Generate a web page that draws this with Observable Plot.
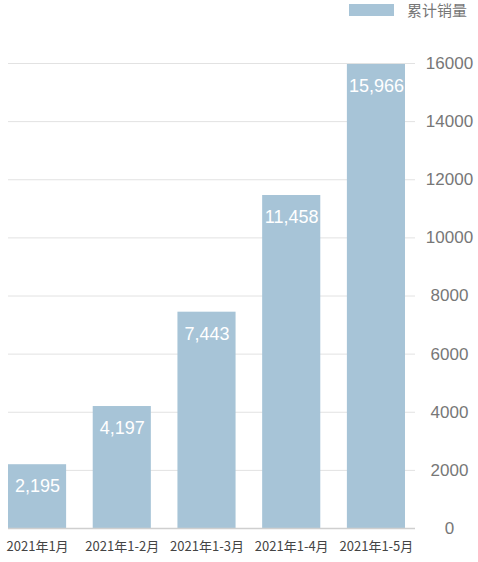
<!DOCTYPE html>
<html><head><meta charset="utf-8">
<script src="https://cdn.jsdelivr.net/npm/d3@7"></script>
<script src="https://cdn.jsdelivr.net/npm/@observablehq/plot@0.6"></script>
<style>
body{margin:0;background:#fff;font-family:"Liberation Sans","Noto Sans CJK SC",sans-serif;}
#legend{height:22px;position:relative;}
#legend .sw{position:absolute;left:349px;top:4px;width:45px;height:12px;background:#a7c4d7;}
#legend .lb{position:absolute;left:407px;top:0px;font-size:15px;color:#777;font-family:"Noto Sans CJK SC",sans-serif;line-height:20px;}
</style></head>
<body>
<div id="legend"><div class="sw"></div><div class="lb">累计销量</div></div>
<div id="chart"></div>
<script>
const periods = ["2021年1月","2021年1-2月","2021年1-3月","2021年1-4月","2021年1-5月"];
const sales = [2195, 4197, 7443, 11458, 15966];
const yTicks = [0,2000,4000,6000,8000,10000,12000,14000,16000];

const data = periods.map((p,i)=>({period:p, value:sales[i]}));
const fmt = d3.format(",");

const chart = Plot.plot({
  width: 478,
  height: 540,
  marginLeft: 8,
  marginRight: 63,
  marginTop: 41,
  marginBottom: 34,
  style: {fontFamily: '"Liberation Sans","Noto Sans CJK SC",sans-serif', background: "#fff"},
  x: {domain: periods, range: [8, 405], paddingInner: 0.314, paddingOuter: 0, round: false, label: null},
  y: {domain: [0,16000], label: null},
  marks: [
    Plot.ruleY(yTicks.filter(d=>d>0), {stroke:"#e2e2e2", strokeWidth:1}),
    Plot.barY(data, {x:"period", y:"value", fill:"#a7c4d7"}),
    Plot.ruleY([0], {stroke:"#cfcfcf", strokeWidth:1.5}),
    Plot.text(data, {x:"period", y:"value", text:d=>fmt(d.value), fill:"#fff", fontSize:18, dy:22}),
    Plot.axisY({anchor:"right", ticks:yTicks, tickSize:0, tickPadding:0, textAnchor:"middle", dx:34, fontSize:17, fill:"#777", tickFormat:d=>String(d)}),
    Plot.axisX({tickSize:0, tickPadding:13, fontSize:13, fill:"#444", fontFamily:'"Noto Sans CJK SC",sans-serif', letterSpacing:"-0.5px"})
  ]
});
document.getElementById("chart").appendChild(chart);
</script>
</body></html>
